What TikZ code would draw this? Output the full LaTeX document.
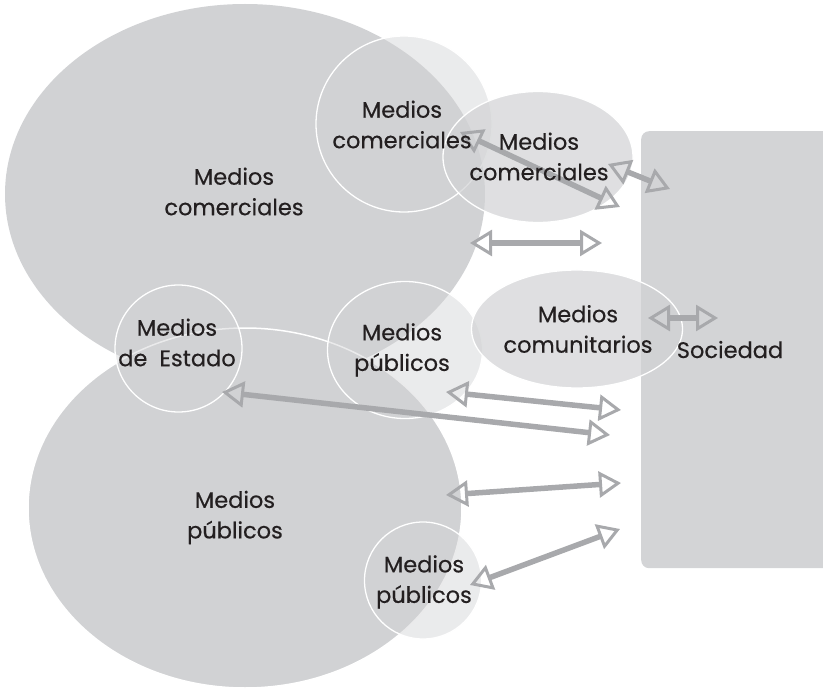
\documentclass[tikz,border=0pt]{standalone}
\usepackage{fontspec}
\setmainfont{Poppins}[FakeBold=0.4]
\usetikzlibrary{arrows.meta,shapes.geometric}
\definecolor{biggray}{HTML}{D1D2D4}
\definecolor{socgray}{HTML}{D3D4D6}
\definecolor{arrgray}{HTML}{A8A9AC}
\definecolor{txt}{HTML}{231F20}
\tikzset{
  bigblob/.style={ellipse, fill=biggray, inner sep=0pt},
  lightblob/.style={ellipse, fill=biggray, fill opacity=0.45, draw=white, line width=1.3pt, inner sep=0pt},
  midblob/.style={ellipse, fill=biggray, fill opacity=0.7, draw=white, line width=1.3pt, inner sep=0pt},
  lbl/.style={text=txt, align=center, inner sep=0pt, font=\fontsize{22.5}{30.5}\selectfont},
  twoway/.style={draw=arrgray, line width=5.5pt,
    {Triangle[open, length=22pt, width=26pt, line width=3pt]}-{Triangle[open, length=22pt, width=26pt, line width=3pt]}}
}
\begin{document}
\begin{tikzpicture}[x=1pt, y=-1pt]
\useasboundingbox (0,0) rectangle (823,690);
% Sociedad box
\node[fill=socgray, rounded corners=8pt, minimum width=200pt, minimum height=437pt, inner sep=0pt, anchor=north west] (soc) at (641,131) {};
% big ellipses
\node[bigblob, minimum width=480pt, minimum height=380pt] (comA) at (245,194) {};
\node[bigblob, draw=white, line width=1.5pt, minimum width=434pt, minimum height=360pt] (pubA) at (245,508) {};
% smaller circles / ellipses
\node[lightblob, minimum width=176pt, minimum height=176pt] (comB) at (404,124) {};
\node[midblob, minimum width=190pt, minimum height=131pt] (comC) at (538,157) {};
\node[lightblob, minimum width=127pt, minimum height=127pt] (est) at (178.5,348.5) {};
\node[lightblob, minimum width=155pt, minimum height=137pt] (pubB) at (405,350) {};
\node[midblob, minimum width=211pt, minimum height=118pt] (comu) at (577,329) {};
\node[lightblob, minimum width=117pt, minimum height=117pt] (pubC) at (423,580.5) {};
% arrow end points
\coordinate (a1s) at (460,132); \coordinate (a1e) at (620,207);
\coordinate (a2s) at (608,164); \coordinate (a2e) at (670,189);
\coordinate (a3s) at (470,243); \coordinate (a3e) at (602,243);
\coordinate (a4s) at (648,318); \coordinate (a4e) at (718,318);
\coordinate (a5s) at (446,392); \coordinate (a5e) at (621,410);
\coordinate (a6s) at (222,392); \coordinate (a6e) at (610,435);
\coordinate (a7s) at (446,495); \coordinate (a7e) at (621,483);
\coordinate (a8s) at (470,585); \coordinate (a8e) at (620,529);
\draw[twoway] (a1s) -- (a1e);
\draw[twoway] (a2s) -- (a2e);
\draw[twoway] (a3s) -- (a3e);
\draw[twoway] (a4s) -- (a4e);
\draw[twoway] (a5s) -- (a5e);
\draw[twoway] (a6s) -- (a6e);
\draw[twoway] (a7s) -- (a7e);
\draw[twoway] (a8s) -- (a8e);
% labels
\node[lbl] (tcomA) at (234,191.5) {Medios\\comerciales};
\node[lbl] (tcomB) at (402,124.5) {Medios\\comerciales};
\node[lbl] (tcomC) at (539,156.5) {Medios\\comerciales};
\node[lbl] (test) at (177,342.5) {Medios\\de\ \ Estado};
\node[lbl] (tpubB) at (402,350) {Medios\\públicos};
\node[lbl] (tcomu) at (578,329) {Medios\\comunitarios};
\node[lbl] (tpubA) at (235,517.5) {Medios\\públicos};
\node[lbl] (tpubC) at (424,582) {Medios\\públicos};
\node[lbl, anchor=base] (tsoc) at (730,358) {Sociedad};
\end{tikzpicture}
\end{document}
